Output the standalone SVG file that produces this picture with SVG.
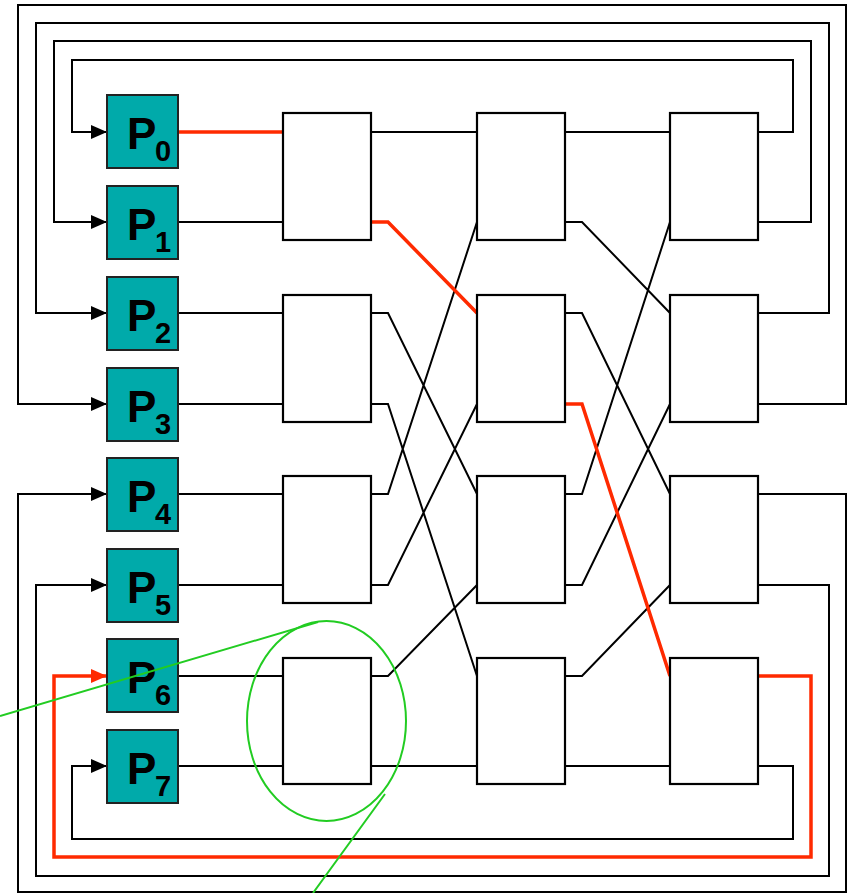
<svg xmlns="http://www.w3.org/2000/svg" width="850" height="893" viewBox="0 0 850 893">
<style>
.pe{fill:#00AAAA;stroke:#222;stroke-width:2}
.sw{fill:#fff;stroke:#000;stroke-width:2.2}
.w{fill:none;stroke:#000;stroke-width:2}
.r{fill:none;stroke:#FF2A00;stroke-width:3.5}
.g{fill:none;stroke:#22CC22;stroke-width:2}
.p{font-family:"Liberation Sans",Arial,sans-serif;font-weight:bold;font-size:44px;fill:#000}
.s{font-family:"Liberation Sans",Arial,sans-serif;font-weight:bold;font-size:29px;fill:#000}
</style>
<defs>
<marker id="ab" markerUnits="userSpaceOnUse" markerWidth="16" markerHeight="16" refX="16" refY="8" orient="auto"><path d="M0,1 L16,8 L0,15 z" fill="#000"/></marker>
<marker id="ar" markerUnits="userSpaceOnUse" markerWidth="16" markerHeight="16" refX="16" refY="8" orient="auto"><path d="M0,1 L16,8 L0,15 z" fill="#FF2A00"/></marker>
</defs>
<rect width="850" height="893" fill="#fff"/>
<g id="connectors">
<path class="w" d="M178,222H283 M178,313H283 M178,404H283 M178,494H283 M178,585H283 M178,676H283 M178,766H283"/>
<path class="w" d="M371,132H477 M371,313H388L477,494 M371,404H388L477,676 M371,494H388L477,222 M371,585H388L477,404 M371,676H388L477,585 M371,766H477"/>
<path class="w" d="M565,132H670 M565,222H582L670,313 M565,313H582L670,494 M565,494H582L670,222 M565,585H582L670,404 M565,676H582L670,585 M565,766H670"/>
<path class="w" marker-end="url(#ab)" d="M758,132H793V60H72V132H107"/>
<path class="w" marker-end="url(#ab)" d="M758,222H811V41H54V222H107"/>
<path class="w" marker-end="url(#ab)" d="M758,313H829V23H36V313H107"/>
<path class="w" marker-end="url(#ab)" d="M758,404H846V5H18V404H107"/>
<path class="w" marker-end="url(#ab)" d="M758,494H846V892H18V494H107"/>
<path class="w" marker-end="url(#ab)" d="M758,585H829V876H36V585H107"/>
<path class="w" marker-end="url(#ab)" d="M758,766H793V839H72V766H107"/>
<path class="r" d="M178,132H283"/>
<path class="r" d="M371,222H388L477,313"/>
<path class="r" d="M565,404H582L670,676"/>
<path class="r" marker-end="url(#ar)" d="M758,676H811V857H54V676H107"/>
</g>
<g id="P0"><rect class="pe" x="107" y="95" width="71" height="73"/><text class="p" x="127" y="149">P</text><text class="s" x="155" y="161">0</text></g>
<g id="P1"><rect class="pe" x="107" y="186" width="71" height="73"/><text class="p" x="127" y="240">P</text><text class="s" x="155" y="252">1</text></g>
<g id="P2"><rect class="pe" x="107" y="277" width="71" height="73"/><text class="p" x="127" y="331">P</text><text class="s" x="155" y="343">2</text></g>
<g id="P3"><rect class="pe" x="107" y="368" width="71" height="73"/><text class="p" x="127" y="422">P</text><text class="s" x="155" y="434">3</text></g>
<g id="P4"><rect class="pe" x="107" y="458" width="71" height="73"/><text class="p" x="127" y="512">P</text><text class="s" x="155" y="524">4</text></g>
<g id="P5"><rect class="pe" x="107" y="549" width="71" height="73"/><text class="p" x="127" y="603">P</text><text class="s" x="155" y="615">5</text></g>
<g id="P6"><rect class="pe" x="107" y="639" width="71" height="73"/><text class="p" x="127" y="693">P</text><text class="s" x="155" y="705">6</text></g>
<g id="P7"><rect class="pe" x="107" y="730" width="71" height="73"/><text class="p" x="127" y="784">P</text><text class="s" x="155" y="796">7</text></g>
<g id="S10"><rect class="sw" x="283" y="113" width="88" height="127"/></g>
<g id="S11"><rect class="sw" x="283" y="295" width="88" height="127"/></g>
<g id="S12"><rect class="sw" x="283" y="476" width="88" height="127"/></g>
<g id="S13"><rect class="sw" x="283" y="658" width="88" height="126"/></g>
<g id="S20"><rect class="sw" x="477" y="113" width="88" height="127"/></g>
<g id="S21"><rect class="sw" x="477" y="295" width="88" height="127"/></g>
<g id="S22"><rect class="sw" x="477" y="476" width="88" height="127"/></g>
<g id="S23"><rect class="sw" x="477" y="658" width="88" height="126"/></g>
<g id="S30"><rect class="sw" x="670" y="113" width="88" height="127"/></g>
<g id="S31"><rect class="sw" x="670" y="295" width="88" height="127"/></g>
<g id="S32"><rect class="sw" x="670" y="476" width="88" height="127"/></g>
<g id="S33"><rect class="sw" x="670" y="658" width="88" height="126"/></g>
<g id="callout">
<ellipse class="g" cx="326.5" cy="721" rx="79.5" ry="100"/>
<path class="g" d="M0,716L318,622 M313,893L385,794"/>
</g>
</svg>
